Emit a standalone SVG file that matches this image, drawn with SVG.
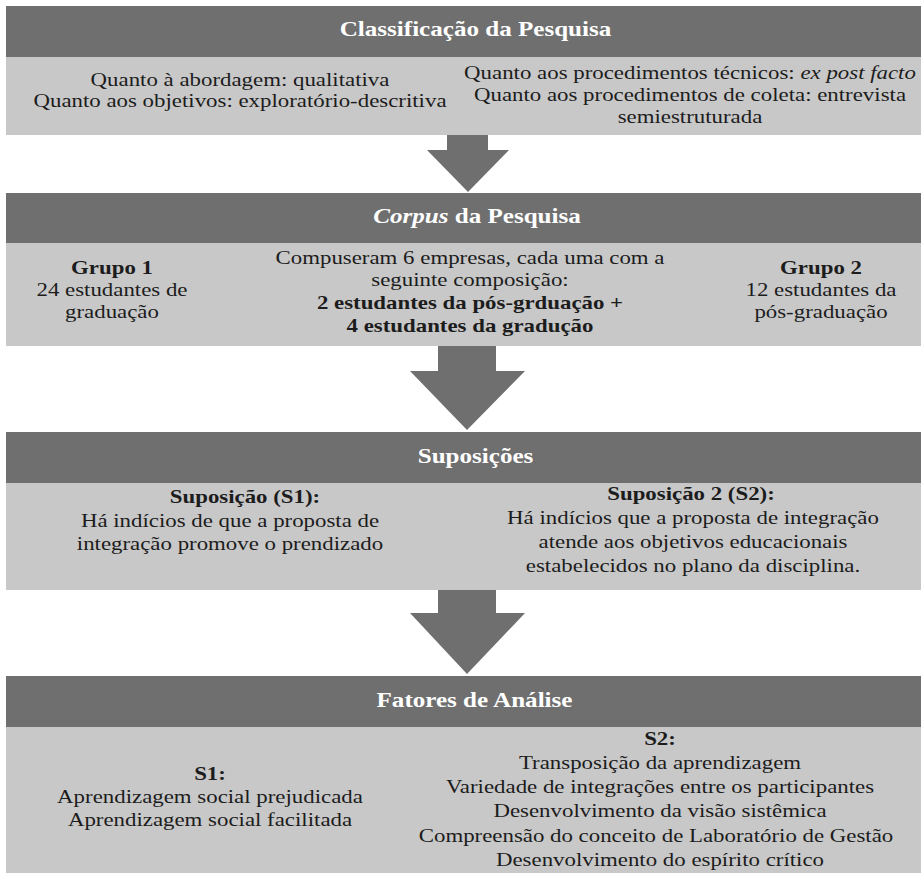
<svg xmlns="http://www.w3.org/2000/svg" width="921" height="875" viewBox="0 0 921 875">
<style>
.bar{fill:#6f6f6f}
.box{fill:#c8c8c8}
.arrow{fill:#6f6f6f}
.h{font-family:"Liberation Serif",serif;font-size:22px;font-weight:bold;fill:#ffffff;text-anchor:middle}
.t{font-family:"Liberation Serif",serif;font-size:18px;fill:#1c1c1c;text-anchor:middle}
.b{font-weight:bold}
</style>
<rect width="921" height="875" fill="#ffffff"/>
<g id="connectors">
<polygon class="arrow" points="447,135 488,135 488,150 509,150 468,192 427,150 447,150"/>
<polygon class="arrow" points="438,346 496,346 496,371 525,371 467,430 410,371 438,371"/>
<polygon class="arrow" points="438,590 496,590 496,613 525,613 467,674 410,613 438,613"/>
</g>
<g id="classificacao">
<rect class="bar" x="6" y="6" width="915" height="51"/>
<rect class="box" x="6" y="57" width="915" height="78"/>
<text class="h" transform="translate(475.5,36) scale(1.14,1)">Classificação da Pesquisa</text>
<text class="t" transform="translate(240,86) scale(1.27,1)">Quanto à abordagem: qualitativa</text>
<text class="t" transform="translate(240,107) scale(1.27,1)">Quanto aos objetivos: exploratório-descritiva</text>
<text class="t" transform="translate(690,79) scale(1.27,1)">Quanto aos procedimentos técnicos: <tspan font-style="italic">ex post facto</tspan></text>
<text class="t" transform="translate(690,101) scale(1.27,1)">Quanto aos procedimentos de coleta: entrevista</text>
<text class="t" transform="translate(690,123) scale(1.27,1)">semiestruturada</text>
</g>
<g id="corpus">
<rect class="bar" x="6" y="193" width="915" height="50"/>
<rect class="box" x="6" y="243" width="915" height="103"/>
<text class="h" transform="translate(477,223) scale(1.14,1)"><tspan font-style="italic">Corpus</tspan> da Pesquisa</text>
<text class="t b" transform="translate(112,274) scale(1.27,1)">Grupo 1</text>
<text class="t" transform="translate(112,296) scale(1.27,1)">24 estudantes de</text>
<text class="t" transform="translate(112,318) scale(1.27,1)">graduação</text>
<text class="t" transform="translate(470,264) scale(1.27,1)">Compuseram 6 empresas, cada uma com a</text>
<text class="t" transform="translate(470,286) scale(1.27,1)">seguinte composição:</text>
<text class="t b" transform="translate(470,309) scale(1.27,1)">2 estudantes da pós-grduação +</text>
<text class="t b" transform="translate(470,332) scale(1.27,1)">4 estudantes da gradução</text>
<text class="t b" transform="translate(821,274) scale(1.27,1)">Grupo 2</text>
<text class="t" transform="translate(821,296) scale(1.27,1)">12 estudantes da</text>
<text class="t" transform="translate(821,318) scale(1.27,1)">pós-graduação</text>
</g>
<g id="suposicoes">
<rect class="bar" x="6" y="432" width="915" height="51"/>
<rect class="box" x="6" y="483" width="915" height="107"/>
<text class="h" transform="translate(475.5,463) scale(1.14,1)">Suposições</text>
<text class="t b" transform="translate(245,503) scale(1.27,1)">Suposição (S1):</text>
<text class="t" transform="translate(230,527) scale(1.27,1)">Há indícios de que a proposta de</text>
<text class="t" transform="translate(230,550) scale(1.27,1)">integração promove o prendizado</text>
<text class="t b" transform="translate(691,500) scale(1.27,1)">Suposição 2 (S2):</text>
<text class="t" transform="translate(693,524) scale(1.27,1)">Há indícios que a proposta de integração</text>
<text class="t" transform="translate(693,548) scale(1.27,1)">atende aos objetivos educacionais</text>
<text class="t" transform="translate(693,572) scale(1.27,1)">estabelecidos no plano da disciplina.</text>
</g>
<g id="fatores">
<rect class="bar" x="6" y="676" width="915" height="51"/>
<rect class="box" x="6" y="727" width="915" height="146"/>
<text class="h" transform="translate(474.5,707) scale(1.14,1)">Fatores de Análise</text>
<text class="t b" transform="translate(210,780) scale(1.27,1)">S1:</text>
<text class="t" transform="translate(210,803) scale(1.27,1)">Aprendizagem social prejudicada</text>
<text class="t" transform="translate(210,826) scale(1.27,1)">Aprendizagem social facilitada</text>
<text class="t b" transform="translate(660,745) scale(1.27,1)">S2:</text>
<text class="t" transform="translate(660,769) scale(1.27,1)">Transposição da aprendizagem</text>
<text class="t" transform="translate(660,793) scale(1.27,1)">Variedade de integrações entre os participantes</text>
<text class="t" transform="translate(660,817) scale(1.27,1)">Desenvolvimento da visão sistêmica</text>
<text class="t" transform="translate(656,842) scale(1.27,1)">Compreensão do conceito de Laboratório de Gestão</text>
<text class="t" transform="translate(660,866) scale(1.27,1)">Desenvolvimento do espírito crítico</text>
</g>
</svg>
